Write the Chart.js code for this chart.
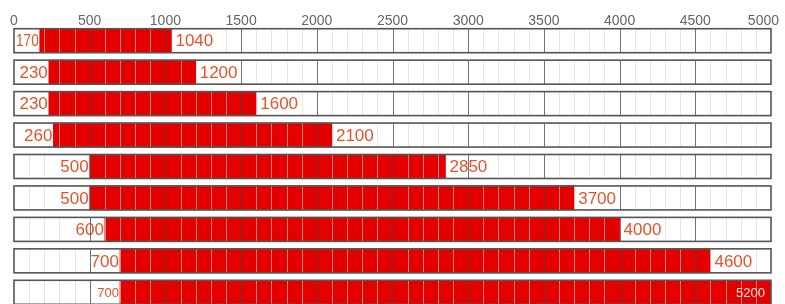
<!DOCTYPE html>
<html>
<head>
<meta charset="utf-8">
<script src="https://cdn.jsdelivr.net/npm/chart.js@4/dist/chart.umd.min.js"></script>
<style>
html,body{margin:0;padding:0;background:#fff;overflow:hidden;}
#wrap{width:785px;height:310px;position:relative;}
</style>
</head>
<body>
<div id="wrap"><canvas id="c"></canvas></div>
<script>
const categories = ['Row 1','Row 2','Row 3','Row 4','Row 5','Row 6','Row 7','Row 8','Row 9'];
const starts = [170, 230, 230, 260, 500, 500, 600, 700, 700];
const ends   = [1040, 1200, 1600, 2100, 2850, 3700, 4000, 4600, 5200];
const tickValues = [0, 500, 1000, 1500, 2000, 2500, 3000, 3500, 4000, 4500, 5000];
const axisMin = 0, axisMax = 5000, minorStep = 100, majorStep = 500;

const LABEL_COLOR = '#e4532c';
const FONT = '"Liberation Sans", Arial, sans-serif';

const rowPlugin = {
  id: 'rows',
  afterDatasetsDraw(chart) {
    const ctx = chart.ctx;
    const xs = chart.scales.x;
    const meta = chart.getDatasetMeta(0);
    const x0 = xs.getPixelForValue(axisMin), x1 = xs.getPixelForValue(axisMax);
    meta.data.forEach((bar, i) => {
      const p = bar.getProps(['y', 'height'], true);
      const top = p.y - p.height / 2, bot = p.y + p.height / 2;
      ctx.save();
      // minor lines
      ctx.strokeStyle = 'rgba(215,215,215,0.6)';
      ctx.lineWidth = 1;
      for (let v = axisMin + minorStep; v < axisMax; v += minorStep) {
        if (v % majorStep === 0) continue;
        const px = Math.round(xs.getPixelForValue(v)) + 0.5;
        ctx.beginPath(); ctx.moveTo(px, top); ctx.lineTo(px, bot); ctx.stroke();
      }
      // labels
      const last = ends[i] > axisMax;
      const sPx = xs.getPixelForValue(starts[i]);
      const ePx = xs.getPixelForValue(Math.min(ends[i], axisMax));
      ctx.textBaseline = 'middle';
      // start label
      ctx.font = (last ? '13px ' : '17px ') + FONT;
      let t = String(starts[i]);
      let w = Math.min(ctx.measureText(t).width, sPx - 1 - (x0 + 2));
      ctx.fillStyle = '#fff';
      ctx.fillRect(sPx - w - 2, top + 1, w + 1, p.height - 2);
      ctx.fillStyle = LABEL_COLOR;
      ctx.textAlign = 'right';
      ctx.fillText(t, sPx - 1, p.y + 1, w);
      // end label
      t = String(ends[i]);
      if (last) {
        ctx.font = '13px ' + FONT;
        ctx.fillStyle = '#ffe8e0';
        ctx.textAlign = 'right';
        ctx.fillText(t, ePx - 6, p.y + 1);
      } else {
        ctx.font = '17px ' + FONT;
        w = ctx.measureText(t).width;
        ctx.fillStyle = '#fff';
        ctx.fillRect(ePx + 1, top + 1, w + 5, p.height - 2);
        ctx.fillStyle = LABEL_COLOR;
        ctx.textAlign = 'left';
        ctx.fillText(t, ePx + 4, p.y + 1);
      }
      // major lines
      ctx.strokeStyle = 'rgba(70,70,70,0.75)';
      ctx.lineWidth = 1;
      for (let v = axisMin + majorStep; v < axisMax; v += majorStep) {
        const px = Math.round(xs.getPixelForValue(v)) + 0.5;
        ctx.beginPath(); ctx.moveTo(px, top); ctx.lineTo(px, bot); ctx.stroke();
      }
      // border
      ctx.strokeStyle = '#555';
      ctx.lineWidth = 1.6;
      ctx.strokeRect(x0, top, x1 - x0, bot - top);
      ctx.restore();
    });
    // tick labels
    ctx.save();
    ctx.font = '14px ' + FONT;
    ctx.fillStyle = '#666';
    ctx.textBaseline = 'alphabetic';
    tickValues.forEach((v) => {
      const px = xs.getPixelForValue(v);
      let tx = px;
      const w = ctx.measureText(String(v)).width;
      if (px + w / 2 > chart.width - 4) tx = chart.width - 6 - w / 2;
      if (tx - w / 2 < 10) tx = 10 + w / 2;
      ctx.textAlign = 'center';
      ctx.fillText(String(v), tx, 25);
    });
    ctx.restore();
  }
};

new Chart(document.getElementById('c'), {
  type: 'bar',
  data: {
    labels: categories,
    datasets: [{
      data: starts.map((s, i) => [s, ends[i]]),
      backgroundColor: '#e50000',
      borderWidth: 0,
      barThickness: 24
    }]
  },
  options: {
    indexAxis: 'y',
    responsive: true,
    maintainAspectRatio: false,
    animation: false,
    layout: { padding: { top: 25, bottom: 2, left: 14, right: 14 } },
    plugins: { legend: { display: false }, tooltip: { enabled: false } },
    scales: {
      x: { display: false, min: axisMin, max: axisMax },
      y: { display: false }
    }
  },
  plugins: [rowPlugin]
});
</script>
</body>
</html>
